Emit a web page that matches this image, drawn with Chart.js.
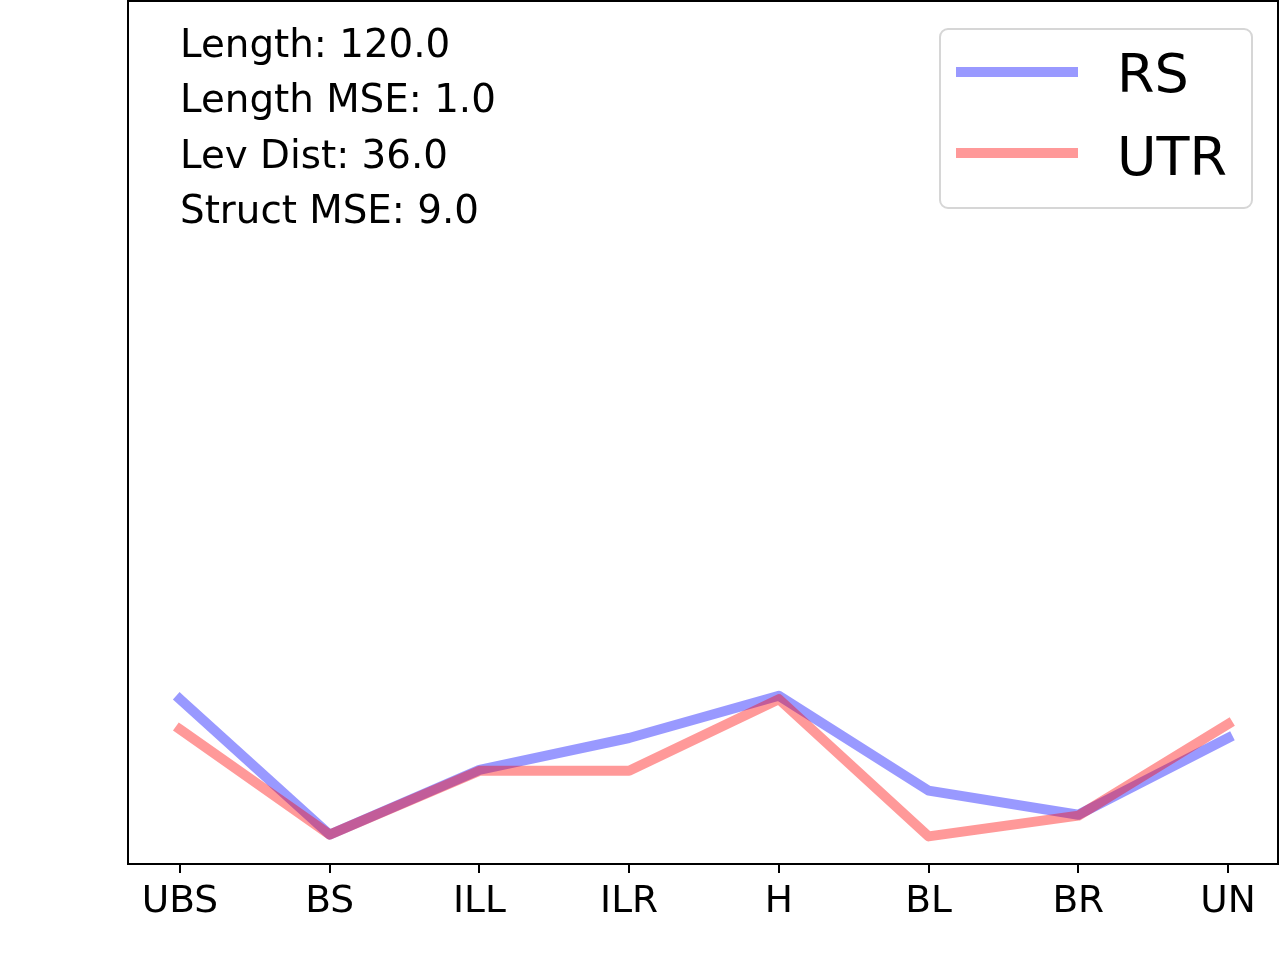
<!DOCTYPE html>
<html>
<head>
<meta charset="utf-8">
<script src="https://cdn.jsdelivr.net/npm/chart.js@4"></script>
<style>
  html, body { margin: 0; padding: 0; background: #fff; }
  #wrap { width: 1280px; height: 960px; position: relative; }
</style>
</head>
<body>
<div id="wrap"><canvas id="c" width="1280" height="960"></canvas></div>
<script>
const categories = ["UBS", "BS", "ILL", "ILR", "H", "BL", "BR", "UN"];
const rsValues  = [19.1, 3.4, 10.9, 14.6, 19.5, 8.5, 5.7, 14.6];
const utrValues = [15.6, 3.4, 10.8, 10.8, 19.1, 3.2, 5.6, 16.2];
const seriesNames = ["RS", "UTR"];
const infoLines = ["Length: 120.0", "Length MSE: 1.0", "Lev Dist: 36.0", "Struct MSE: 9.0"];

const FONT = "'DejaVu Sans', sans-serif";
const blue = "rgba(0,0,255,0.4)";
const red = "rgba(255,0,0,0.4)";

const overlay = {
  id: "overlay",
  afterDraw(chart) {
    const ctx = chart.ctx;
    const a = chart.chartArea;
    ctx.save();
    // frame
    ctx.strokeStyle = "#000";
    ctx.lineWidth = 2;
    ctx.strokeRect(a.left, a.top, a.right - a.left, a.bottom - a.top);
    // info text
    ctx.fillStyle = "#000";
    ctx.font = "38.8px " + FONT;
    ctx.textBaseline = "alphabetic";
    ctx.textAlign = "left";
    infoLines.forEach((t, i) => ctx.fillText(t, 180, 57 + i * 55.3));
    // legend box
    const bx = 940, by = 29, bw = 312, bh = 179, r = 8;
    ctx.beginPath();
    ctx.moveTo(bx + r, by);
    ctx.arcTo(bx + bw, by, bx + bw, by + bh, r);
    ctx.arcTo(bx + bw, by + bh, bx, by + bh, r);
    ctx.arcTo(bx, by + bh, bx, by, r);
    ctx.arcTo(bx, by, bx + bw, by, r);
    ctx.closePath();
    ctx.fillStyle = "rgba(255,255,255,0.8)";
    ctx.fill();
    ctx.strokeStyle = "#d6d6d6";
    ctx.lineWidth = 2;
    ctx.stroke();
    const cols = [blue, red];
    const ly = [72, 153];
    const ty = [92, 175];
    ctx.font = "54px " + FONT;
    for (let i = 0; i < 2; i++) {
      ctx.strokeStyle = cols[i];
      ctx.lineWidth = 10;
      ctx.lineCap = "butt";
      ctx.beginPath();
      ctx.moveTo(956, ly[i]);
      ctx.lineTo(1078, ly[i]);
      ctx.stroke();
      ctx.fillStyle = "#000";
      ctx.fillText(seriesNames[i], 1117, ty[i]);
    }
    ctx.restore();
  }
};

new Chart(document.getElementById("c"), {
  type: "line",
  data: {
    datasets: [
      { label: seriesNames[0], order: 2, data: rsValues.map((v, i) => ({ x: i, y: v })), borderColor: blue },
      { label: seriesNames[1], order: 1, data: utrValues.map((v, i) => ({ x: i, y: v })), borderColor: red }
    ]
  },
  options: {
    responsive: false,
    animation: false,
    devicePixelRatio: 1,
    layout: { padding: { left: 128, right: 2, top: 1, bottom: 0 } },
    elements: {
      line: { borderWidth: 10, tension: 0, borderCapStyle: "square", borderJoinStyle: "round" },
      point: { radius: 0, hoverRadius: 0 }
    },
    plugins: { legend: { display: false }, tooltip: { enabled: false } },
    scales: {
      x: {
        type: "linear",
        min: -0.347,
        max: 7.334,
        afterBuildTicks: s => { s.ticks = categories.map((_, i) => ({ value: i })); },
        afterFit: s => { s.height = 96; },
        ticks: {
          autoSkip: false,
          maxRotation: 0,
          padding: 7,
          color: "#000",
          font: { family: FONT, size: 37.5 },
          callback: v => categories[v] ?? ""
        },
        grid: { display: true, drawOnChartArea: false, drawTicks: true, tickLength: 9, color: "#000", lineWidth: 2 },
        border: { display: true, color: "#000", width: 2 }
      },
      y: {
        min: 0,
        max: 100,
        afterFit: s => { s.width = 0; },
        ticks: { display: false },
        grid: { display: false, drawTicks: false },
        border: { display: true, color: "#000", width: 2 }
      }
    }
  },
  plugins: [overlay]
});
</script>
</body>
</html>
